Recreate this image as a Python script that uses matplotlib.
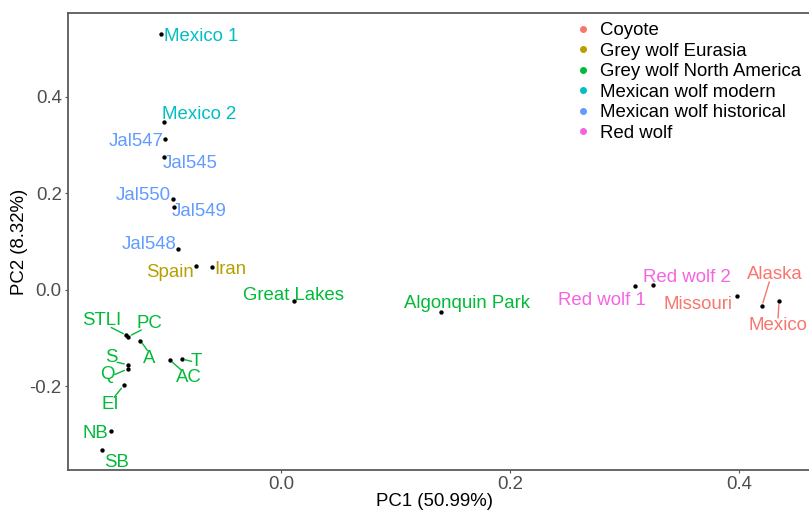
import matplotlib
matplotlib.use("Agg")
import matplotlib.pyplot as plt
from matplotlib.lines import Line2D

# ---- data ----
names = ["Mexico 1", "Mexico 2", "Jal547", "Jal545", "Jal550", "Jal549", "Jal548",
         "Spain", "Iran", "Great Lakes", "Algonquin Park", "STLI", "PC", "A", "S", "Q",
         "AC", "T", "EI", "NB", "SB", "Red wolf 1", "Red wolf 2", "Missouri", "Alaska", "Mexico"]
pc1 = [-0.105, -0.102, -0.101, -0.1025, -0.094, -0.093, -0.0897,
       -0.0745, -0.0605, 0.0117, 0.1397, -0.1350, -0.1335, -0.1229, -0.134, -0.134,
       -0.0972, -0.0867, -0.1374, -0.1485, -0.156, 0.309, 0.325, 0.398, 0.420, 0.435]
pc2 = [0.530, 0.347, 0.313, 0.275, 0.188, 0.172, 0.085,
       0.050, 0.047, -0.024, -0.0455, -0.094, -0.097, -0.105, -0.155, -0.164,
       -0.145, -0.143, -0.198, -0.292, -0.332, 0.007, 0.010, -0.0124, -0.034, -0.0234]
group = ["Mexican wolf modern", "Mexican wolf modern",
         "Mexican wolf historical", "Mexican wolf historical", "Mexican wolf historical",
         "Mexican wolf historical", "Mexican wolf historical",
         "Grey wolf Eurasia", "Grey wolf Eurasia",
         "Grey wolf North America", "Grey wolf North America", "Grey wolf North America",
         "Grey wolf North America", "Grey wolf North America", "Grey wolf North America",
         "Grey wolf North America", "Grey wolf North America", "Grey wolf North America",
         "Grey wolf North America", "Grey wolf North America", "Grey wolf North America",
         "Red wolf", "Red wolf", "Coyote", "Coyote", "Coyote"]
groups = ["Coyote", "Grey wolf Eurasia", "Grey wolf North America",
          "Mexican wolf modern", "Mexican wolf historical", "Red wolf"]
xticks = [0.0, 0.2, 0.4]
yticks = [-0.2, 0.0, 0.2, 0.4]
xlabel = "PC1 (50.99%)"
ylabel = "PC2 (8.32%)"

# ---- styling / layout ----
colors = ["#F8766D", "#B79F00", "#00BA38", "#00BFC4", "#619CFF", "#F564E3"]
cmap = dict(zip(groups, colors))
# label offsets in pixels (dx, dy)
offsets = {
    "Mexico 1": (40, 0), "Mexico 2": (35, 10), "Jal547": (-29.5, 0),
    "Jal545": (26, -4), "Jal550": (-30.5, 6), "Jal549": (25, -2),
    "Jal548": (-29.5, 7), "Spain": (-26, -4), "Iran": (18.5, 0),
    "Great Lakes": (-1, 8), "Algonquin Park": (26, 11),
    "STLI": (-25, 17), "PC": (21, 16), "A": (9, -15),
    "S": (-16, 10), "Q": (-20, -3), "AC": (19, -15), "T": (15, 0),
    "EI": (-13, -17), "NB": (-15.5, 0), "SB": (14, -10),
    "Red wolf 1": (-32.5, -12), "Red wolf 2": (33.7, 10),
    "Missouri": (-38.5, -6), "Alaska": (13, 34.6), "Mexico": (-1, -22),
}
# connector segments: start point on the label box (relative position)
segments = {
    "STLI": (0.75, 0.1), "PC": (0.2, 0.1), "A": (0.35, 0.95), "S": (0.95, 0.2),
    "Q": (1.0, 0.5), "AC": (0.2, 0.95), "T": (0.05, 0.5), "EI": (0.7, 0.95),
    "Alaska": (0.4, 0.05), "Mexico": (0.5, 0.95),
}
TEXT_DY = -2.5  # visual-centre correction for text

plt.rcParams["font.family"] = ["Liberation Sans", "DejaVu Sans"]
plt.rcParams["axes.unicode_minus"] = False
FS = 13.4

W, H = 809, 518
fig = plt.figure(figsize=(W / 100, H / 100), dpi=100)
xlim = (-0.186, 0.47)
ylim = (-0.373, 0.573)
left_px, bottom_px, top_px = 68, 470, 13
px_per_x = 1145.0
right_px = left_px + (xlim[1] - xlim[0]) * px_per_x
ax = fig.add_axes([left_px / W, (H - bottom_px) / H, (right_px - left_px) / W,
                   (bottom_px - top_px) / H])
ax.set_xlim(*xlim)
ax.set_ylim(*ylim)

ax.scatter(pc1, pc2, s=10, color="black", zorder=3, linewidths=0)

for n, x, y, g in zip(names, pc1, pc2, group):
    dx, dy = offsets[n]
    c = cmap[g]
    kw = {}
    if n in segments:
        kw["arrowprops"] = dict(arrowstyle="-", color=c, lw=1.0, shrinkA=0, shrinkB=2.5,
                                patchA=None, relpos=segments[n])
    ax.annotate(n, (x, y), xytext=(dx, dy + TEXT_DY), textcoords="offset pixels",
                ha="center", va="center", fontsize=FS, color=c, zorder=4, **kw)

ax.set_xticks(xticks)
ax.set_yticks(yticks)
ax.set_xticklabels([f"{v:.1f}" for v in xticks])
ax.set_yticklabels([f"{v:.1f}" for v in yticks])
ax.tick_params(axis="both", length=2.5, width=0.8, color="#555555",
               labelsize=FS, labelcolor="#4D4D4D", pad=2)
for s in ax.spines.values():
    s.set_color("#5a5a5a")
    s.set_linewidth(1.3)
ax.set_xlabel(xlabel, fontsize=FS, color="black")
ax.set_ylabel(ylabel, fontsize=FS, color="black")
ax.xaxis.set_label_coords((435 - left_px) / (right_px - left_px), -0.05)
ax.yaxis.set_label_coords(-(left_px - 28) / (right_px - left_px), 0.5)

handles = [Line2D([0], [0], marker="o", linestyle="", markersize=4,
                  markerfacecolor=c, markeredgecolor=c) for c in colors]
leg = fig.legend(handles, groups, loc="upper left",
                 bbox_to_anchor=(575.6 / W, 1 - 22.0 / H), bbox_transform=fig.transFigure,
                 frameon=False, fontsize=FS, handlelength=0.8, handletextpad=0.5,
                 labelspacing=0.19, borderpad=0, borderaxespad=0)

fig.savefig("out.png", dpi=100)
